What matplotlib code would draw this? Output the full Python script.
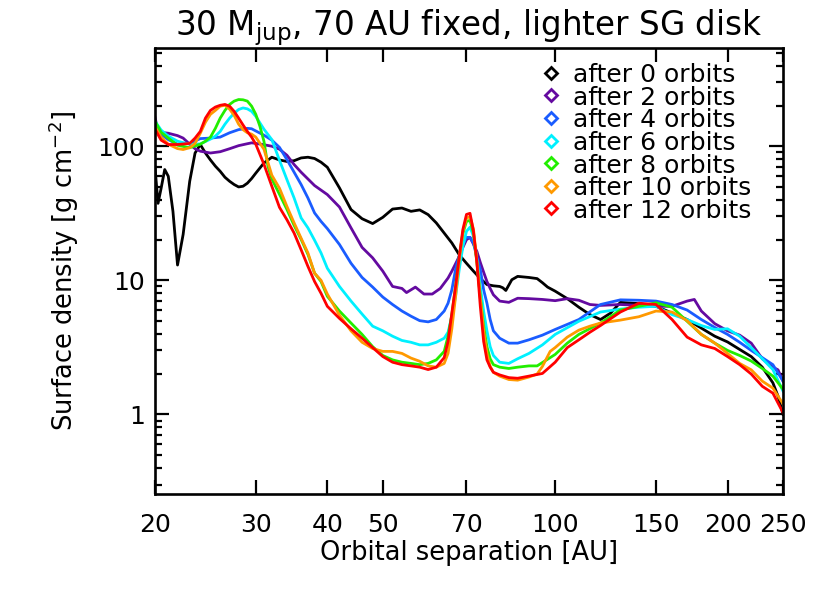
import matplotlib
matplotlib.use("Agg")
import matplotlib.pyplot as plt
from matplotlib.ticker import FixedLocator, NullFormatter, LogLocator

# ---------------- data (orbital separation [AU], surface density [g cm^-2]) ----------------
r0 = [20.0, 20.25, 20.5, 20.8, 21.1, 21.5, 21.9, 22.4, 23.0, 23.5, 24.0, 24.5, 25.0, 25.5, 26.0,
      26.5, 27.0, 27.5, 28.0, 28.5, 29.0, 29.5, 30.0, 31.0, 32.0, 33.0, 34.0, 35.0, 36.0, 37.0,
      38.0, 39.0, 40.0, 42.0, 44.0, 46.0, 48.0, 50.0, 52.0, 54.0, 56.0, 58.0, 60.0, 62.0, 64.0,
      66.0, 68.0, 70.0, 72.0, 74.0, 76.0, 78.0, 80.0, 81.0, 82.0, 84.0, 86.0, 90.0, 93.0, 95.0,
      97.0, 100.0, 105.0, 110.0, 115.0, 120.0, 125.0, 130.0, 140.0, 150.0, 160.0, 170.0, 180.0,
      190.0, 200.0, 210.0, 220.0, 230.0, 240.0, 245.0, 250.0]
s0 = [70.0, 37.5, 48.5, 67.0, 59.7, 32.7, 13.0, 22.0, 54.8, 89.0, 103.0, 89.0, 79.0, 71.0, 65.0,
      58.7, 54.8, 51.8, 49.7, 50.3, 53.0, 57.4, 63.0, 75.0, 82.8, 79.0, 77.0, 78.0, 81.8, 82.8,
      81.0, 76.0, 69.7, 48.9, 33.7, 28.8, 26.5, 29.5, 34.0, 34.6, 32.7, 33.5, 30.9, 26.8, 22.5,
      19.0, 15.5, 13.4, 11.7, 10.3, 9.3, 9.1, 9.0, 8.8, 8.4, 10.1, 10.7, 10.5, 10.3, 9.6,
      8.9, 8.3, 7.3, 6.3, 5.55, 5.1, 5.7, 6.85, 6.7, 6.4, 5.7, 5.1, 4.4,
      3.83, 3.47, 3.05, 2.7, 2.25, 1.72, 1.37, 1.0]

r2 = [20.0, 20.25, 20.5, 21.1, 21.9, 22.4, 23.0, 23.5, 24.0, 25.0, 26.0, 27.0, 28.0, 29.0, 29.5,
      30.0, 31.0, 32.0, 33.0, 34.0, 35.0, 36.0, 38.0, 40.0, 42.0, 44.0, 46.0, 48.0, 50.0, 52.0,
      54.0, 55.0, 57.0, 59.0, 61.0, 63.0, 65.0, 66.0, 67.0, 68.0, 69.0, 70.0, 71.0, 72.0, 73.0,
      74.0, 75.0, 76.0, 77.0, 78.0, 80.0, 83.0, 86.0, 90.0, 95.0, 100.0, 105.0, 110.0, 115.0,
      120.0, 130.0, 140.0, 150.0, 160.0, 170.0, 175.0, 180.0, 190.0, 200.0, 210.0, 220.0, 230.0,
      240.0, 245.0, 250.0]
s2 = [165.0, 129.0, 127.0, 125.0, 120.0, 115.0, 103.5, 95.8, 91.8, 89.0, 91.0, 95.8, 101.0, 104.4, 106.0,
      105.0, 102.6, 100.0, 95.0, 85.7, 73.0, 64.0, 50.9, 43.6, 35.2, 24.6, 17.6, 14.7, 11.7, 9.0,
      8.7, 8.1, 8.9, 7.9, 7.9, 8.7, 10.4, 11.7, 13.3, 15.1, 17.6, 20.1, 20.9, 18.6, 16.4,
      13.6, 11.5, 9.8, 8.7, 7.8, 7.0, 6.85, 7.35, 7.3, 7.2, 7.05, 7.3, 7.1, 6.6,
      6.5, 6.6, 6.5, 6.4, 6.4, 7.0, 7.2, 5.9, 4.75, 4.2, 3.9, 3.4, 2.6,
      2.25, 2.15, 1.77]

r4 = [20.0, 20.5, 21.1, 21.9, 23.0, 24.0, 25.0, 26.0, 27.0, 28.0, 29.0, 29.5, 30.0, 31.0, 32.0,
      33.0, 34.0, 35.0, 36.0, 37.0, 38.0, 39.0, 40.0, 42.0, 44.0, 46.0, 48.0, 50.0, 52.0, 54.0,
      56.0, 58.0, 60.0, 62.0, 64.0, 65.0, 66.0, 67.0, 68.0, 69.0, 70.0, 71.0, 72.0, 73.0, 74.0,
      75.0, 76.0, 77.0, 78.0, 80.0, 83.0, 86.0, 90.0, 95.0, 100.0, 110.0, 120.0, 130.0, 140.0,
      150.0, 160.0, 170.0, 180.0, 190.0, 200.0, 210.0, 220.0, 230.0, 240.0, 250.0]
s4 = [146.0, 123.0, 112.0, 103.5, 105.0, 114.0, 115.0, 117.0, 126.0, 133.0, 136.0, 135.0, 130.0, 121.0, 111.0,
      98.0, 79.5, 64.0, 51.8, 41.1, 31.8, 27.5, 24.3, 18.5, 13.4, 10.5, 8.9, 7.5, 6.6, 5.9,
      5.4, 5.0, 4.9, 5.1, 5.9, 6.75, 8.5, 12.1, 15.3, 18.6, 20.9, 20.9, 18.9, 14.8, 12.1,
      8.5, 6.75, 5.1, 4.2, 3.7, 3.4, 3.4, 3.6, 3.9, 4.3, 5.1, 6.6, 7.15, 7.1,
      7.0, 6.6, 6.0, 5.1, 4.45, 3.95, 3.45, 3.0, 2.65, 2.35, 1.77]

r6 = [20.0, 20.5, 21.1, 21.9, 23.0, 24.0, 25.0, 25.5, 26.0, 26.5, 27.0, 27.5, 28.0, 28.5, 29.0,
      29.5, 30.0, 31.0, 32.0, 33.0, 34.0, 35.0, 36.0, 37.0, 38.0, 39.0, 40.0, 42.0, 44.0, 46.0,
      48.0, 50.0, 52.0, 54.0, 56.0, 58.0, 60.0, 62.0, 64.0, 65.0, 66.0, 67.0, 68.0, 69.0, 70.0,
      71.0, 72.0, 73.0, 74.0, 75.0, 76.0, 77.0, 78.0, 80.0, 83.0, 86.0, 90.0, 95.0, 100.0,
      110.0, 120.0, 130.0, 140.0, 150.0, 160.0, 170.0, 180.0, 190.0, 200.0, 210.0, 220.0, 230.0,
      240.0, 250.0]
s6 = [154.0, 132.0, 119.0, 109.0, 103.5, 104.0, 113.0, 119.0, 129.0, 146.0, 162.0, 176.0, 188.0, 193.0, 190.0,
      182.0, 167.0, 134.0, 112.0, 78.6, 56.4, 41.1, 29.2, 24.6, 19.9, 16.0, 12.3, 9.0, 7.0, 5.6,
      4.55, 4.2, 3.83, 3.56, 3.45, 3.3, 3.3, 3.45, 3.7, 4.1, 5.4, 7.6, 12.1, 17.9, 23.2,
      24.9, 21.3, 14.3, 9.0, 5.9, 4.2, 3.2, 2.75, 2.45, 2.4, 2.6, 2.85, 3.3, 3.95,
      4.95, 5.8, 6.1, 6.3, 6.4, 5.55, 5.1, 4.6, 4.3, 4.35, 3.83, 3.15, 2.6,
      2.16, 1.49]

r8 = [20.0, 20.5, 21.1, 21.9, 23.0, 24.0, 24.5, 25.0, 25.5, 26.0, 26.5, 27.0, 27.5, 28.0, 28.5,
      29.0, 29.5, 30.0, 30.5, 31.0, 31.5, 32.0, 33.0, 34.0, 35.0, 36.0, 37.0, 38.0, 39.0, 40.0,
      42.0, 44.0, 46.0, 48.0, 50.0, 52.0, 54.0, 56.0, 58.0, 60.0, 62.0, 64.0, 65.0, 66.0, 67.0,
      68.0, 69.0, 70.0, 71.0, 72.0, 73.0, 74.0, 75.0, 76.0, 77.0, 78.0, 80.0, 83.0, 86.0,
      90.0, 93.0, 100.0, 105.0, 110.0, 120.0, 130.0, 140.0, 150.0, 160.0, 170.0, 180.0, 190.0,
      200.0, 210.0, 220.0, 230.0, 240.0, 250.0]
s8 = [154.0, 127.0, 115.0, 101.7, 97.5, 103.5, 109.0, 117.0, 136.0, 162.0, 185.0, 205.0, 217.0, 223.0, 222.0,
      217.0, 199.0, 173.0, 141.0, 109.0, 71.0, 57.0, 43.8, 33.8, 25.7, 20.2, 15.6, 11.3, 9.8, 7.6,
      5.9, 4.8, 3.95, 3.2, 2.75, 2.55, 2.45, 2.4, 2.35, 2.4, 2.55, 2.95, 3.83, 5.55, 9.0,
      15.1, 22.4, 27.5, 28.0, 22.4, 13.5, 7.6, 4.55, 3.2, 2.6, 2.35, 2.25, 2.2, 2.25,
      2.3, 2.3, 2.8, 3.4, 3.95, 4.8, 6.0, 6.4, 6.8, 6.3, 4.95, 3.95, 3.4,
      3.0, 2.75, 2.5, 2.2, 1.93, 1.54]

r10 = [20.0, 20.5, 21.1, 21.9, 22.4, 23.0, 23.5, 24.0, 24.5, 25.0, 25.5, 26.0, 26.5, 27.0, 27.5,
       28.0, 28.5, 29.0, 29.5, 30.0, 31.0, 32.0, 33.0, 34.0, 35.0, 36.0, 37.0, 38.0, 39.0, 40.0,
       42.0, 44.0, 46.0, 48.0, 50.0, 52.0, 54.0, 56.0, 58.0, 60.0, 62.0, 64.0, 65.0, 66.0, 67.0,
       68.0, 69.0, 70.0, 71.0, 72.0, 73.0, 74.0, 75.0, 76.0, 77.0, 78.0, 80.0, 83.0, 86.0,
       90.0, 93.0, 95.0, 98.0, 100.0, 105.0, 110.0, 115.0, 120.0, 130.0, 140.0, 150.0, 160.0,
       170.0, 180.0, 190.0, 200.0, 210.0, 220.0, 230.0, 240.0, 250.0]
s10 = [139.0, 117.0, 103.5, 96.0, 94.5, 97.5, 105.0, 125.0, 151.0, 173.0, 185.0, 199.0, 202.0, 189.0, 170.0,
       146.0, 133.0, 126.0, 123.0, 117.0, 95.0, 60.8, 48.6, 35.6, 26.8, 20.6, 16.0, 11.3, 10.0, 7.9,
       5.5, 4.2, 3.45, 3.1, 2.95, 2.95, 2.85, 2.63, 2.49, 2.3, 2.25, 2.4, 2.85, 4.35, 7.6,
       14.3, 23.2, 29.0, 30.0, 24.0, 13.8, 7.35, 4.2, 2.85, 2.28, 2.06, 1.93, 1.82, 1.8,
       1.9, 2.0, 2.28, 2.95, 3.15, 3.77, 4.25, 4.55, 4.8, 5.05, 5.35, 5.9, 5.8,
       5.0, 3.95, 3.4, 2.85, 2.4, 2.15, 1.77, 1.57, 1.2]

r12 = [20.0, 20.5, 21.1, 21.9, 23.0, 23.5, 24.0, 24.5, 25.0, 25.5, 26.0, 26.5, 27.0, 27.5, 28.0,
       28.5, 29.0, 29.5, 30.0, 31.0, 32.0, 33.0, 34.0, 35.0, 36.0, 37.0, 38.0, 39.0, 40.0, 42.0,
       44.0, 46.0, 48.0, 50.0, 52.0, 54.0, 56.0, 58.0, 60.0, 62.0, 64.0, 65.0, 66.0, 67.0, 68.0,
       69.0, 70.0, 71.0, 72.0, 73.0, 74.0, 75.0, 76.0, 77.0, 78.0, 80.0, 83.0, 86.0, 90.0,
       95.0, 100.0, 105.0, 110.0, 115.0, 120.0, 130.0, 140.0, 150.0, 160.0, 170.0, 180.0, 190.0,
       200.0, 210.0, 220.0, 230.0, 240.0, 250.0]
s12 = [134.0, 111.0, 103.0, 103.0, 105.0, 115.0, 129.0, 162.0, 185.0, 196.0, 202.0, 205.0, 199.0, 182.0, 162.0,
       144.0, 129.0, 117.0, 103.5, 73.4, 50.3, 35.0, 28.3, 22.5, 16.9, 12.7, 9.8, 8.0, 6.4, 5.2,
       4.35, 3.7, 3.15, 2.7, 2.45, 2.35, 2.3, 2.25, 2.16, 2.25, 2.65, 3.5, 5.7, 9.0, 15.1,
       24.0, 31.0, 31.6, 23.2, 13.5, 6.4, 3.5, 2.55, 2.25, 2.06, 1.97, 1.88, 1.86, 1.93,
       2.02, 2.45, 3.15, 3.6, 4.1, 4.6, 5.8, 6.75, 6.6, 5.1, 3.77, 3.3, 3.1,
       2.7, 2.35, 2.0, 1.62, 1.44, 1.03]

labels = ["after 0 orbits", "after 2 orbits", "after 4 orbits", "after 6 orbits",
          "after 8 orbits", "after 10 orbits", "after 12 orbits"]
colors = ["#000000", "#640aa0", "#1a5cff", "#00f0ff", "#22ee00", "#ff9900", "#ff0000"]

xticks = [20, 30, 40, 50, 70, 100, 150, 200, 250]
xticklabels = ["20", "30", "40", "50", "70", "100", "150", "200", "250"]
yticks = [1, 10, 100]
yticklabels = ["1", "10", "100"]

# ---------------- plot ----------------
plt.rcParams['font.family'] = ['DejaVu Sans']
fig = plt.figure(figsize=(8.3, 5.93), dpi=100)
ax = fig.add_axes([0.1867, 0.167, 0.7567, 0.752])

series = [(r0, s0), (r2, s2), (r4, s4), (r6, s6), (r8, s8), (r10, s10), (r12, s12)]
for (r, s), c in zip(series, colors):
    ax.plot(r, s, color=c, lw=2.0, solid_joinstyle='round')

ax.set_xscale('log')
ax.set_yscale('log')
ax.set_xlim(20, 250)
ax.set_ylim(0.255, 540)

ax.xaxis.set_major_locator(FixedLocator(xticks))
ax.set_xticklabels(xticklabels)
ax.xaxis.set_minor_locator(FixedLocator([]))
ax.xaxis.set_minor_formatter(NullFormatter())
ax.yaxis.set_major_locator(FixedLocator(yticks))
ax.set_yticklabels(yticklabels)
ax.yaxis.set_minor_locator(LogLocator(base=10, subs=[2, 3, 4, 5, 6, 7, 8, 9]))
ax.yaxis.set_minor_formatter(NullFormatter())

ax.tick_params(which='both', direction='in', top=True, right=True, width=1.6, colors='black')
ax.tick_params(which='major', length=10, labelsize=18)
ax.tick_params(which='minor', length=5)
ax.tick_params(axis='x', which='major', pad=14)
ax.tick_params(axis='y', which='major', pad=7)
for sp in ax.spines.values():
    sp.set_linewidth(1.9)

ax.set_xlabel("Orbital separation [AU]", fontsize=18.5, labelpad=2)
ax.set_ylabel(r"Surface density [g cm$^{-2}$]", fontsize=18.5, labelpad=12)
ax.set_title(r"30 M$_{\mathrm{jup}}$, 70 AU fixed, lighter SG disk", fontsize=23.5, pad=6)

# legend: open diamonds + labels, stacked in the upper right
leg_x_marker, leg_x_text, leg_y0, leg_dy = 0.6306, 0.6656, 0.9446, 0.0507
for i, (lab, c) in enumerate(zip(labels, colors)):
    yy = leg_y0 - i * leg_dy
    ax.plot([leg_x_marker], [yy], transform=ax.transAxes, ls='none', marker='D',
            markersize=6.5, markerfacecolor='none', markeredgecolor=c,
            markeredgewidth=2.0, clip_on=False)
    ax.text(leg_x_text, yy, lab, transform=ax.transAxes, fontsize=18,
            ha='left', va='center_baseline', color='black')

fig.savefig("out.png", dpi=100)
